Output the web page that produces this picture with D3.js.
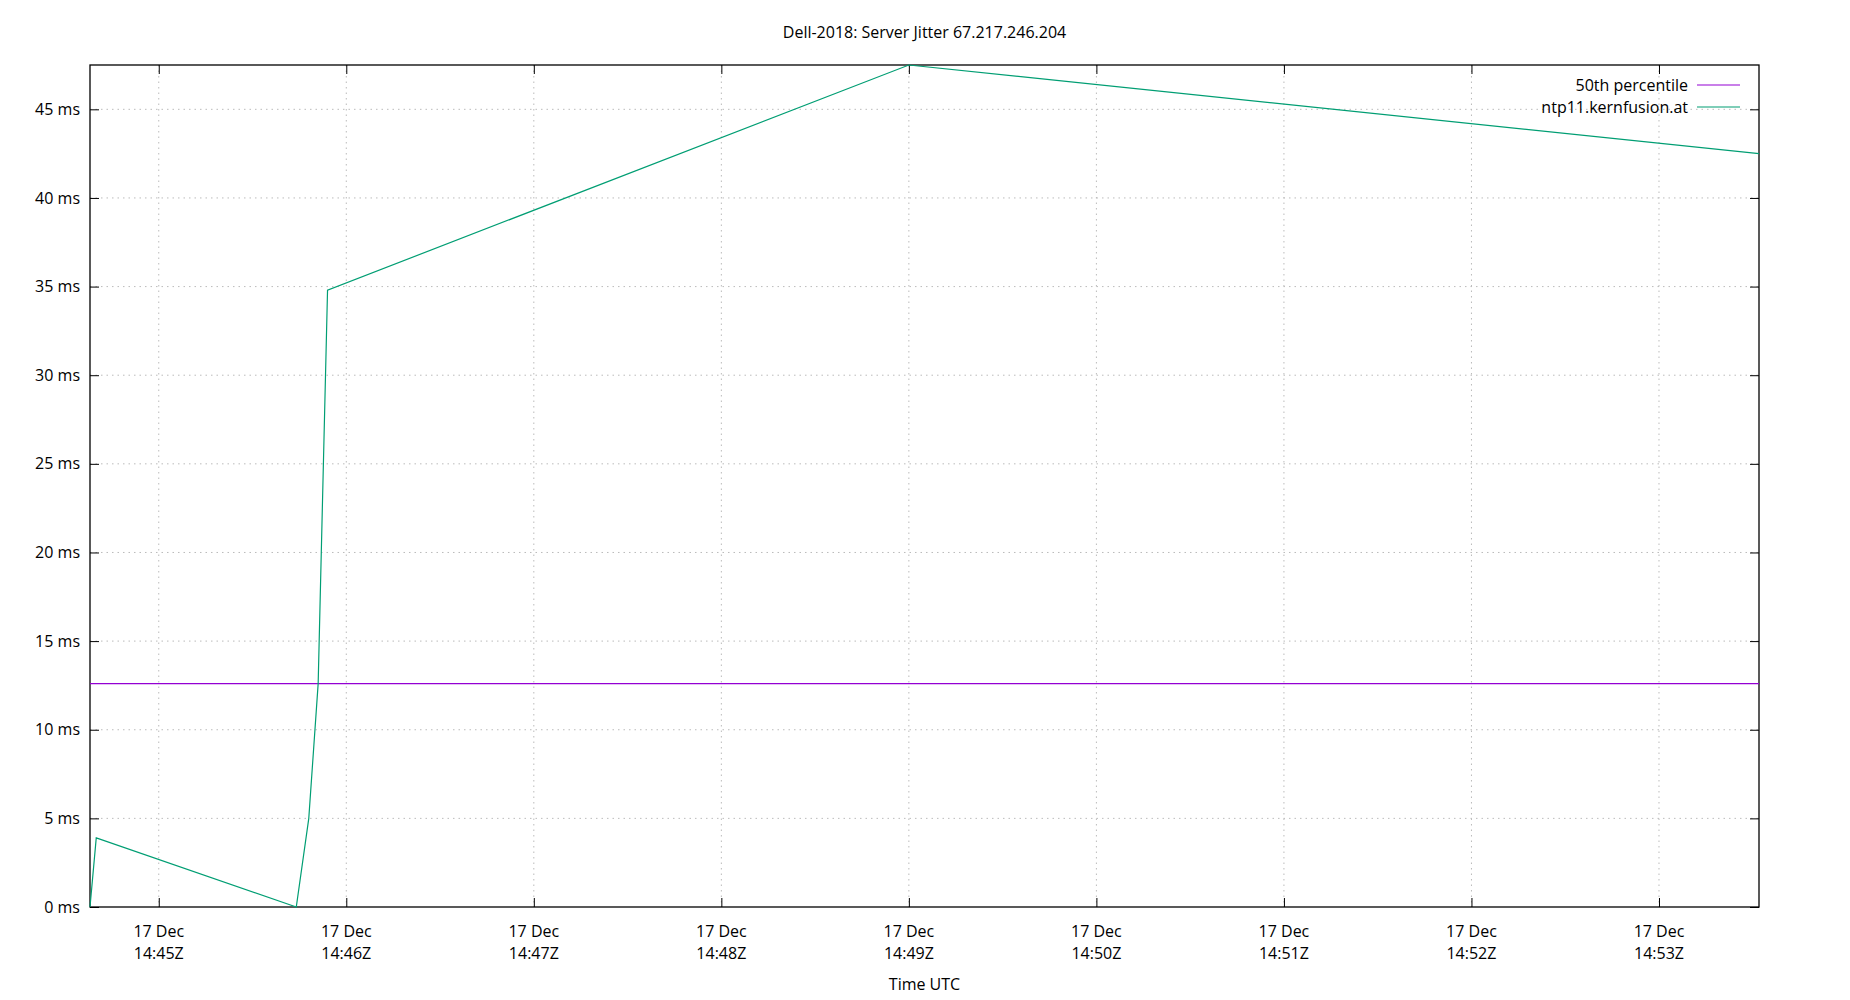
<!DOCTYPE html>
<html><head><meta charset="utf-8">
<script src="https://cdn.jsdelivr.net/npm/d3@7"></script>
<style>body{margin:0;background:#fff}text{font-family:"Open Sans",sans-serif;fill:#000}</style>
</head><body><svg id="c" width="1850" height="1000"></svg>
<script>
const times = ["2023-12-17T14:44:38Z","2023-12-17T14:44:40Z","2023-12-17T14:45:44Z","2023-12-17T14:45:48Z","2023-12-17T14:45:51Z","2023-12-17T14:45:54Z","2023-12-17T14:49:00Z","2023-12-17T14:53:32Z"];
const jitter = [0, 3.9, 0, 5.0, 12.6, 34.8, 47.5, 42.5];
const median = 12.6;
const yTicks = [0,5,10,15,20,25,30,35,40,45];
const xTickTimes = ["14:45","14:46","14:47","14:48","14:49","14:50","14:51","14:52","14:53"];

const svg = d3.select("#c");
const L=90,R=1759,T=65,B=907;
const t0=new Date("2023-12-17T14:44:38Z"), t1=new Date("2023-12-17T14:53:32Z");
const x=d3.scaleUtc().domain([t0,t1]).range([L,R]);
const y=d3.scaleLinear().domain([0,47.5]).range([B,T]);
const xt=xTickTimes.map(s=>new Date("2023-12-17T"+s+":00Z"));
const g=svg.append("g");
g.selectAll(".gx").data(xt).join("line").attr("x1",d=>x(d)).attr("x2",d=>x(d)).attr("y1",T).attr("y2",B).attr("stroke","#bbb").attr("stroke-dasharray","1.5,4");
g.selectAll(".gy").data(yTicks.slice(1)).join("line").attr("x1",L).attr("x2",R).attr("y1",d=>y(d)).attr("y2",d=>y(d)).attr("stroke","#bbb").attr("stroke-dasharray","1.5,4");
const ya=d3.axisLeft(y).tickValues(yTicks).tickFormat(d=>d+" ms").tickSize(-9).tickPadding(10);
svg.append("g").attr("transform",`translate(${L},0)`).call(ya).call(a=>{a.select(".domain").remove();a.selectAll("text").style("font-size","16px");});
svg.append("g").attr("transform",`translate(${R},0)`).call(d3.axisRight(y).tickValues(yTicks).tickSize(-9).tickFormat("")).select(".domain").remove();
const xa=svg.append("g").attr("transform",`translate(0,${B})`).call(d3.axisBottom(x).tickValues(xt).tickSize(-9).tickFormat(""));
xa.select(".domain").remove();
svg.append("g").attr("transform",`translate(0,${T})`).call(d3.axisTop(x).tickValues(xt).tickSize(-9).tickFormat("")).select(".domain").remove();
const fmt=d3.utcFormat("%H:%MZ");
xt.forEach(d=>{
  const tx=svg.append("text").attr("x",x(d)).attr("text-anchor","middle").style("font-size","16px");
  tx.append("tspan").attr("x",x(d)).attr("y",B+30).text("17 Dec");
  tx.append("tspan").attr("x",x(d)).attr("y",B+52).text(fmt(d));
});
svg.append("rect").attr("x",L).attr("y",T).attr("width",R-L).attr("height",B-T).attr("fill","none").attr("stroke","#000").attr("stroke-width",1.3);
svg.append("line").attr("x1",L).attr("x2",R).attr("y1",y(median)).attr("y2",y(median)).attr("stroke","#9400d3").attr("stroke-width",1.2);
const pts=times.map((t,i)=>[new Date(t),jitter[i]]);
svg.append("path").datum(pts).attr("fill","none").attr("stroke","#009e73").attr("stroke-width",1.2).attr("d",d3.line().x(d=>x(d[0])).y(d=>y(d[1])));
[["50th percentile","#9400d3",85],["ntp11.kernfusion.at","#009e73",107]].forEach(([n,c,yy])=>{
  svg.append("text").attr("x",1688).attr("y",yy+6).attr("text-anchor","end").style("font-size","16px").text(n);
  svg.append("line").attr("x1",1697).attr("x2",1740).attr("y1",yy).attr("y2",yy).attr("stroke",c).attr("stroke-width",1.2);
});
svg.append("text").attr("x",(L+R)/2).attr("y",38).attr("text-anchor","middle").style("font-size","16px").text("Dell-2018: Server Jitter 67.217.246.204");
svg.append("text").attr("x",(L+R)/2).attr("y",990).attr("text-anchor","middle").style("font-size","16px").text("Time UTC");
</script></body></html>
